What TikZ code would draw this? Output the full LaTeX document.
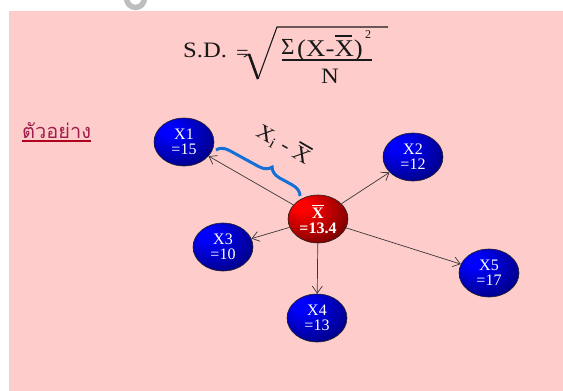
\documentclass[tikz,border=0pt]{standalone}
\usepackage{fontspec}
\setmainfont{Liberation Serif}
\newfontfamily\wideserif[FakeStretch=1.12]{Liberation Serif}
\newfontfamily\thaifont[Script=Thai]{Loma}
\usetikzlibrary{shapes.geometric,arrows.meta,decorations.pathreplacing}
\definecolor{bgpink}{RGB}{255,204,204}
\definecolor{thaired}{RGB}{160,30,75}
\definecolor{ulred}{RGB}{175,0,30}
\definecolor{bracebl}{RGB}{20,112,215}
\definecolor{arrowgr}{RGB}{55,55,55}
\definecolor{fraggr}{RGB}{190,190,190}
\definecolor{ink}{RGB}{25,25,25}
\pgfdeclareradialshading{bluegrad}{\pgfpoint{-14bp}{14bp}}{color(0bp)=(blue);color(6bp)=(blue);color(34bp)=(blue!55!black);color(52bp)=(black);color(70bp)=(black)}
\pgfdeclareradialshading{redgrad}{\pgfpoint{-14bp}{14bp}}{color(0bp)=(red);color(6bp)=(red);color(34bp)=(red!50!black);color(52bp)=(black);color(70bp)=(black)}
\newcommand{\xbar}{\leavevmode\hbox{\vbox{\hrule height 0.08em width 0.72em\kern0.12em\hbox{X}}}}
\tikzset{
  val/.style={ellipse, minimum width=60pt, minimum height=48pt, inner sep=0pt,
    shading=bluegrad, draw=black!85, line width=0.6pt, text=white, align=center,
    font=\fontsize{16}{15}\selectfont},
  meanval/.style={val, shading=redgrad, font=\bfseries\fontsize{16}{15}\selectfont},
  link/.style={draw=arrowgr, line width=0.7pt, -{Straight Barb[length=7pt,width=10pt]}},
  formula/.style={inner sep=0pt, text=ink, font=\wideserif\fontsize{22}{24}\selectfont},
}
\begin{document}
\begin{tikzpicture}[x=1pt,y=-1pt]
\useasboundingbox (0,0) rectangle (563,391);
\fill[bgpink] (9,11) rectangle (563,391);
% cut-off grey glyph at top
\begin{scope}
\clip (0,0) rectangle (563,11);
\draw[fraggr, line width=5.5pt] (135.5,-2) ellipse [x radius=9, y radius=9.5];
\end{scope}
% formula
\node[formula, anchor=base west] (sd) at (183,57) {S.D.};
\node[formula, anchor=base west, font=\wideserif\fontsize{20}{22}\selectfont] (eq) at (236,59) {=};
\draw[ink, line width=1pt, line cap=round] (244,57) -- (249,54);
\draw[ink, line width=2.6pt] (249,54) -- (258,79);
\draw[ink, line width=1.1pt, line join=miter] (258,79) -- (277,27) -- (388,27);
\node[formula, anchor=base west, font=\fontsize{23}{24}\selectfont] (sig) at (281,54) {Σ};
\node[formula, anchor=base west, font=\wideserif\fontsize{24}{26}\selectfont] (num) at (297,56) {(X-\xbar)};
\node[formula, anchor=base west, font=\fontsize{12}{12}\selectfont] (sq) at (365,38) {2};
\draw[ink, line width=1.5pt] (282,60) -- (372,60);
\node[formula, anchor=base] (den) at (330,83) {N};
% Thai heading
\node[anchor=base west, inner sep=0pt, text=thaired, font=\thaifont\fontsize{20}{22}\selectfont] (th) at (22,138) {ตัวอย่าง};
\draw[ulred, line width=1.1pt] ([yshift=-3pt]th.base west) -- ([yshift=-3pt]th.base east);
% nodes
\node[meanval] (c) at (318,219) {\xbar\\=13.4};
\node[val] (x1) at (184,142) {X1\\=15};
\node[val] (x2) at (413,157) {X2\\=12};
\node[val] (x3) at (223,247) {X3\\=10};
\node[val] (x4) at (317,318) {X4\\=13};
\node[val] (x5) at (489,273) {X5\\=17};
\foreach \t in {x1,x2,x3,x4,x5} \draw[link] (c) -- (\t);
% brace and label
\coordinate (b1) at (216,150);
\coordinate (b2) at (300,196);
\draw[bracebl, line width=3pt, decorate, decoration={brace, amplitude=12pt, aspect=0.6}] (b1) -- (b2);
\node[rotate=-30, inner sep=0pt, text=ink, font=\wideserif\fontsize{21}{22}\selectfont] (lbl) at (284,144) {X\textsubscript{i} - \xbar};
\end{tikzpicture}
\end{document}
